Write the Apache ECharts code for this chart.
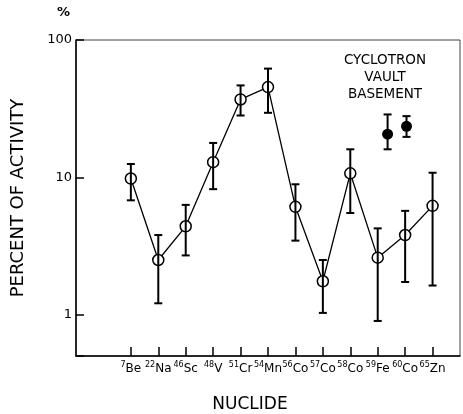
<!DOCTYPE html>
<html>
<head>
<meta charset="utf-8">
<script src="https://cdn.jsdelivr.net/npm/echarts@6/dist/echarts.min.js"></script>
<style>
html, body { margin: 0; padding: 0; background: #fff; }
#main { width: 463px; height: 414px; }
</style>
</head>
<body>
<div id="main"></div>
<script>
// nuclides on the x axis
var massNumbers = [7, 22, 46, 48, 51, 54, 56, 57, 58, 59, 60, 65];
var elements = ['Be', 'Na', 'Sc', 'V', 'Cr', 'Mn', 'Co', 'Co', 'Co', 'Fe', 'Co', 'Zn'];

// percent of activity (open circles) with error bar ends
var percent = [9.8, 2.5, 4.4, 12.9, 36.9, 45.4, 6.1, 1.75, 10.7, 2.6, 3.8, 6.2];
var errHigh = [12.5, 3.8, 6.3, 17.8, 46.7, 61.9, 8.9, 2.5, 16.0, 4.25, 5.7, 10.8];
var errLow = [6.8, 1.21, 2.7, 8.2, 28.2, 29.5, 3.46, 1.03, 5.5, 0.9, 1.73, 1.63];

// cyclotron vault basement (filled circles)
var basementX = [9.36, 10.05];
var basementPct = [20.6, 23.5];
var basementHigh = [28.7, 27.9];
var basementLow = [16.0, 19.7];

var yTicks = [1, 10, 100];

var FONT = 'DejaVu Sans';

var chart = echarts.init(document.getElementById('main'), null, { renderer: 'canvas' });

// 误差棒
function renderErrorBar(params, api) {
    var x = api.value(0);
    var lo = api.coord([x, api.value(1)]);
    var hi = api.coord([x, api.value(2)]);
    var w = 4;
    var style = { stroke: '#000', lineWidth: 2 };
    return {
        type: 'group',
        children: [
            { type: 'line', shape: { x1: hi[0], y1: hi[1], x2: lo[0], y2: lo[1] }, style: style },
            { type: 'line', shape: { x1: hi[0] - w, y1: hi[1], x2: hi[0] + w, y2: hi[1] }, style: style },
            { type: 'line', shape: { x1: lo[0] - w, y1: lo[1], x2: lo[0] + w, y2: lo[1] }, style: style }
        ]
    };
}

var idx = massNumbers.map(function (m, i) { return i; });

var option = {
    animation: false,
    backgroundColor: '#fff',
    textStyle: { fontFamily: FONT, color: '#000' },
    grid: {
        left: 76, right: 3, top: 40, bottom: 58,
        containLabel: false,
        outerBoundsMode: 'none',
        show: true,
        borderColor: '#444',
        borderWidth: 1
    },
    xAxis: {
        type: 'value',
        min: -2,
        max: 12,
        splitLine: { show: false },
        axisLine: { show: true, onZero: false, lineStyle: { color: '#000', width: 1.5 } },
        axisTick: {
            show: true, inside: true, length: 9,
            customValues: idx,
            lineStyle: { color: '#000', width: 1.5 }
        },
        axisLabel: {
            customValues: idx,
            margin: 5,
            formatter: function (v) {
                var i = Math.round(v);
                return '{s|' + massNumbers[i] + '}{e|' + elements[i] + '}';
            },
            rich: {
                s: { fontFamily: FONT, fontSize: 8, color: '#000', padding: [0, 0, 7, 0] },
                e: { fontFamily: FONT, fontSize: 12, color: '#000' }
            }
        }
    },
    yAxis: {
        type: 'log',
        logBase: 10,
        min: 0.5,
        max: 100,
        name: 'PERCENT OF ACTIVITY',
        nameLocation: 'middle',
        nameRotate: 90,
        nameGap: 49,
        nameTextStyle: { fontFamily: FONT, fontSize: 18, color: '#000' },
        splitLine: { show: false },
        axisLine: { show: true, onZero: false, lineStyle: { color: '#000', width: 1.5 } },
        axisTick: {
            show: true, inside: true, length: 8,
            lineStyle: { color: '#000', width: 1.5 }
        },
        axisLabel: {
            margin: 4,
            fontSize: 13,
            color: '#000',
            formatter: function (v) {
                for (var k = 0; k < yTicks.length; k++) {
                    if (Math.abs(v - yTicks[k]) < 1e-6 * yTicks[k]) return String(yTicks[k]);
                }
                return '';
            }
        }
    },
    graphic: [
        {
            type: 'text', left: 57, top: 6,
            style: { text: '%', font: 'bold 13px "DejaVu Sans"', fill: '#000' }
        },
        {
            type: 'text', x: 250, y: 405,
            style: {
                text: 'NUCLIDE', font: '17px "DejaVu Sans"', fill: '#000',
                textAlign: 'center', textVerticalAlign: 'middle'
            }
        },
        {
            type: 'text', x: 385, y: 52,
            style: {
                text: 'CYCLOTRON\nVAULT\nBASEMENT', font: '13.5px "DejaVu Sans"', fill: '#000',
                textAlign: 'center', lineHeight: 17
            }
        }
    ],
    series: [
        {
            type: 'line',
            data: percent.map(function (v, i) { return [i, v]; }),
            symbol: 'circle',
            symbolSize: 11,
            itemStyle: { color: '#fff', borderColor: '#000', borderWidth: 1.5 },
            lineStyle: { color: '#000', width: 1.3 },
            z: 2
        },
        {
            type: 'custom',
            renderItem: renderErrorBar,
            encode: { x: 0, y: [1, 2] },
            data: percent.map(function (v, i) { return [i, errLow[i], errHigh[i]]; }),
            z: 3
        },
        {
            type: 'scatter',
            data: basementPct.map(function (v, i) { return [basementX[i], v]; }),
            symbol: 'circle',
            symbolSize: 11,
            itemStyle: { color: '#000', opacity: 1 },
            z: 4
        },
        {
            type: 'custom',
            renderItem: renderErrorBar,
            encode: { x: 0, y: [1, 2] },
            data: basementPct.map(function (v, i) { return [basementX[i], basementLow[i], basementHigh[i]]; }),
            z: 3
        }
    ]
};

chart.setOption(option);
</script>
</body>
</html>
